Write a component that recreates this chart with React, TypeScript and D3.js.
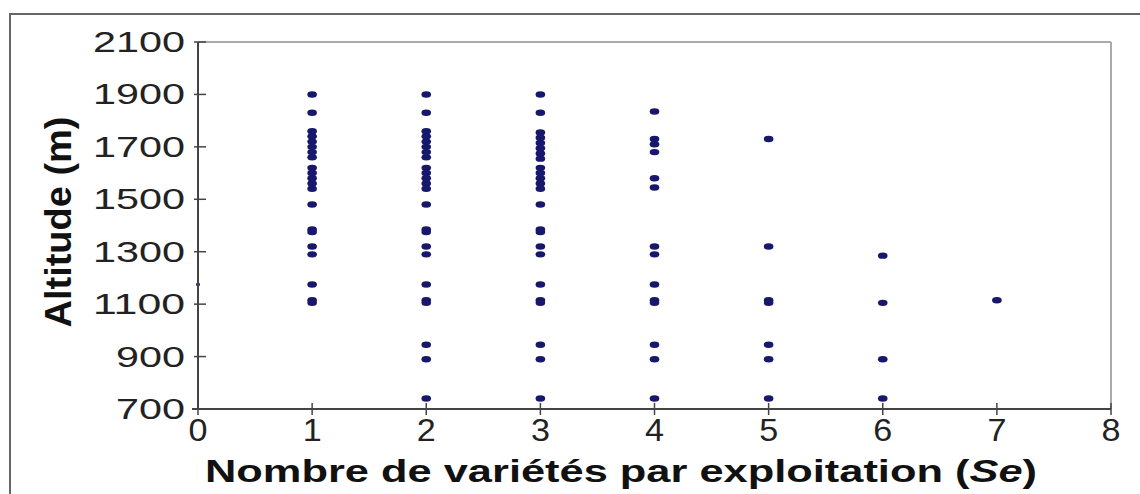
import * as d3 from 'd3'

// altitude (m) of each farm, grouped by number of varieties per farm
const SE_VALUES = [0, 1, 2, 3, 4, 5, 6, 7]
const ALT_SE0 = [1175]
const ALT_SE1 = [1900, 1830, 1760, 1740, 1720, 1700, 1680, 1660, 1620, 1600, 1580, 1560, 1540, 1480, 1385, 1375, 1320, 1290, 1175, 1115, 1105]
const ALT_SE2 = [1900, 1830, 1760, 1740, 1720, 1700, 1680, 1660, 1620, 1600, 1580, 1560, 1540, 1480, 1385, 1375, 1320, 1290, 1175, 1115, 1105, 945, 890, 740]
const ALT_SE3 = [1900, 1830, 1755, 1735, 1715, 1695, 1675, 1655, 1620, 1600, 1580, 1560, 1540, 1480, 1385, 1375, 1320, 1290, 1175, 1115, 1105, 945, 890, 740]
const ALT_SE4 = [1835, 1730, 1710, 1680, 1580, 1545, 1320, 1290, 1175, 1115, 1105, 945, 890, 740]
const ALT_SE5 = [1730, 1320, 1115, 1105, 945, 890, 740]
const ALT_SE6 = [1285, 1105, 890, 740]
const ALT_SE7 = [1115]
const Y_TICKS = [700, 900, 1100, 1300, 1500, 1700, 1900, 2100]
const X_TICKS = [0, 1, 2, 3, 4, 5, 6, 7, 8]

const W = 1140
const H = 494
const PLOT = { left: 198, right: 1111, top: 42, bottom: 409 }
const DOT = '#17176b'
const FONT = '"Liberation Sans", Arial, sans-serif'

export default function App() {
  const x = d3.scaleLinear().domain([0, 8]).range([PLOT.left, PLOT.right])
  const y = d3.scaleLinear().domain([700, 2100]).range([PLOT.bottom, PLOT.top])

  const groups = [ALT_SE0, ALT_SE1, ALT_SE2, ALT_SE3, ALT_SE4, ALT_SE5, ALT_SE6, ALT_SE7]
  const points = groups.flatMap((alts, i) => alts.map((a) => ({ se: SE_VALUES[i], alt: a })))

  return (
    <svg
      width={W}
      height={H}
      style={{ position: 'fixed', left: 0, top: 0, background: '#fff' }}
      fontFamily={FONT}
    >
      {/* outer frame */}
      <rect x={10} y={14} width={W} height={H} fill="none" stroke="#666" strokeWidth={2} />

      {/* plot border (top / right) */}
      <line x1={PLOT.left} x2={PLOT.right} y1={PLOT.top} y2={PLOT.top} stroke="#aaa" strokeWidth={2} />
      <line x1={PLOT.right} x2={PLOT.right} y1={PLOT.top} y2={PLOT.bottom} stroke="#aaa" strokeWidth={2} />

      {/* points */}
      {points.map((p, i) => (
        <ellipse
          key={i}
          cx={x(p.se)}
          cy={y(p.alt)}
          rx={p.se === 0 ? 2 : 4.8}
          ry={p.se === 0 ? 2 : 3.2}
          fill={DOT}
        />
      ))}

      {/* y axis */}
      <line x1={PLOT.left} x2={PLOT.left} y1={PLOT.top} y2={PLOT.bottom} stroke="#444" strokeWidth={2} />
      {Y_TICKS.map((t) => (
        <g key={t}>
          <line x1={PLOT.left - 4} x2={PLOT.left + 8} y1={y(t)} y2={y(t)} stroke="#444" strokeWidth={1.5} />
          <text
            x={185}
            y={y(t) + 10}
            textAnchor="end"
            fontSize={29}
            fill="#222"
            textLength={String(t).length * 23}
            lengthAdjust="spacingAndGlyphs"
          >
            {t}
          </text>
        </g>
      ))}

      {/* x axis */}
      <line x1={PLOT.left - 6} x2={PLOT.right} y1={PLOT.bottom} y2={PLOT.bottom} stroke="#444" strokeWidth={2} />
      {X_TICKS.map((t) => (
        <g key={t}>
          <line x1={x(t)} x2={x(t)} y1={PLOT.bottom - 6} y2={PLOT.bottom + 6} stroke="#444" strokeWidth={1.5} />
          <text
            x={x(t)}
            y={441}
            textAnchor="middle"
            fontSize={31}
            fill="#222"
            textLength={19}
            lengthAdjust="spacingAndGlyphs"
          >
            {t}
          </text>
        </g>
      ))}

      {/* axis titles */}
      <text
        x={205}
        y={482}
        fontSize={31}
        fontWeight="bold"
        fill="#111"
        textLength={832}
        lengthAdjust="spacingAndGlyphs"
      >
        Nombre de variétés par exploitation (<tspan fontStyle="italic">Se</tspan>)
      </text>
      <text
        transform="translate(71,222) rotate(-90)"
        textAnchor="middle"
        fontSize={36}
        fontWeight="bold"
        fill="#111"
        textLength={211}
        lengthAdjust="spacingAndGlyphs"
      >
        Altitude (m)
      </text>
    </svg>
  )
}
